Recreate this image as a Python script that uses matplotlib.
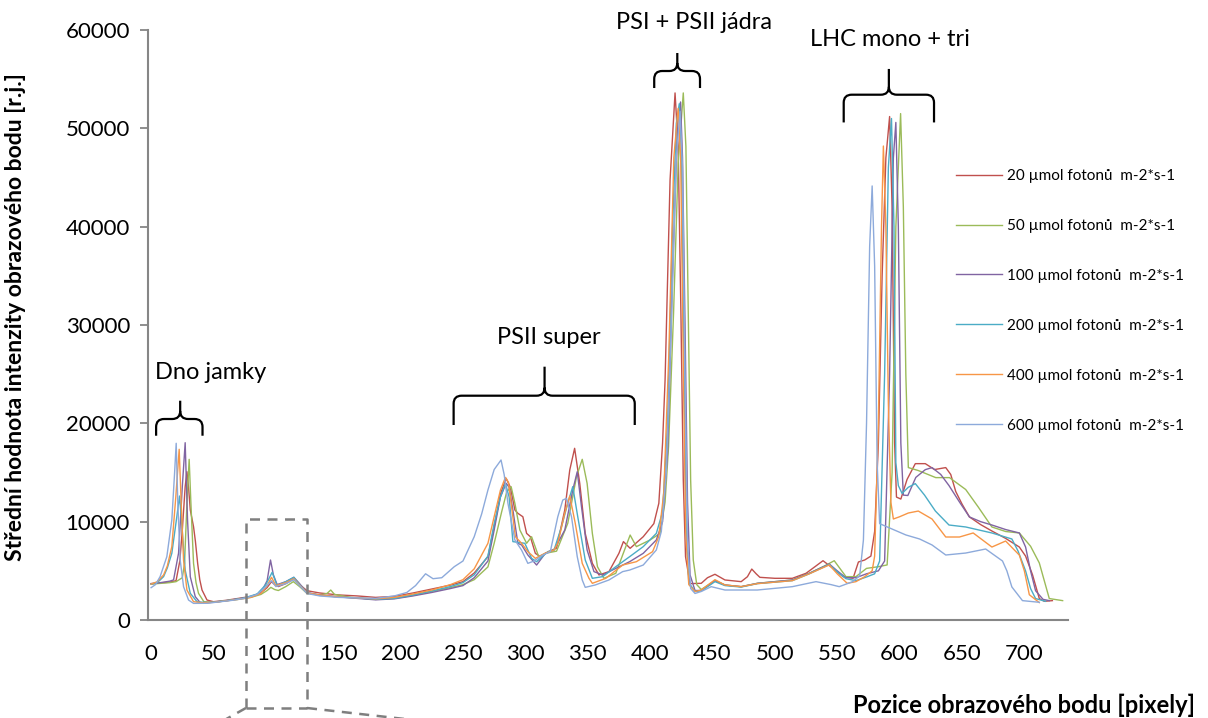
import matplotlib
matplotlib.use("Agg")
import matplotlib.pyplot as plt
from matplotlib.path import Path
from matplotlib.patches import PathPatch
from matplotlib.transforms import IdentityTransform

plt.rcParams['font.family'] = ['Lato', 'DejaVu Sans']

# ---- data (pixel position, mean intensity) ----
labels = ["20 µmol fotonů  m-2*s-1", "50 µmol fotonů  m-2*s-1",
          "100 µmol fotonů  m-2*s-1", "200 µmol fotonů  m-2*s-1",
          "400 µmol fotonů  m-2*s-1", "600 µmol fotonů  m-2*s-1"]
colors = ["#C0504D", "#9BBB59", "#8064A2", "#4BACC6", "#F79646", "#8DAADB"]

x_20 = [0, 5, 10, 15, 20, 23, 25, 27.3, 28.7, 30, 31.4, 34, 35.5, 37.3, 39, 40.8, 44.8, 50, 60, 70, 80, 88, 93, 96.5,
        99, 102, 108, 114, 119, 125, 135, 150, 165, 180, 195, 210, 225, 240, 250, 259, 270, 275, 280, 284.6, 288,
        291.6, 294, 298, 301, 304, 308, 312, 318.5, 325, 331.6, 335.6, 339.5, 343.6, 348, 353.7, 359, 367, 375,
        378.6, 384, 394.5, 403, 407, 410, 412, 416, 420, 422.5, 424.7, 426.6, 428.4, 432, 441, 446, 452, 460, 473,
        478, 481.5, 485, 488, 500, 514, 525, 533, 538.6, 546.6, 554.7, 562.7, 567, 572, 577, 580, 583, 586, 589,
        592, 594, 596, 597.5, 601, 606, 612.6, 620.6, 628, 637, 641, 645, 650, 656, 665, 674, 685, 696, 701,
        706.6, 712, 716, 722.5]
y_20 = [3700, 3750, 3800, 3850, 4000, 6000, 9150, 13560, 15080, 13500, 11190, 9490, 8000, 5760, 4100, 3050, 2030,
        1860, 2000, 2200, 2400, 2750, 3300, 3900, 3600, 3400, 3700, 4150, 3600, 2980, 2750, 2550, 2450, 2300, 2400,
        2750, 3150, 3550, 3900, 4780, 6440, 9490, 12800, 14400, 13500, 11190, 10850, 10500, 8810, 8470, 6780, 6440,
        6950, 7300, 11190, 15260, 17460, 13900, 8810, 5760, 4580, 4920, 6780, 7970, 7290, 8470, 9800, 11870, 18000,
        24400, 44750, 53600, 48140, 31200, 14240, 6440, 3700, 3730, 4300, 4650, 4070, 3900, 4400, 5180, 4700, 4340,
        4240, 4240, 4750, 5500, 6030, 5250, 4410, 4240, 5900, 6100, 6500, 9000, 18000, 35000, 47000, 51200, 42000,
        18000, 12500, 12300, 14300, 15900, 15900, 15300, 15500, 14800, 13070, 11800, 10480, 9700, 9050, 8300, 7420,
        6500, 4580, 2180, 1900, 1970]

x_50 = [0, 5, 10, 15, 20, 25, 26.8, 28.7, 30.5, 31.9, 34, 36, 38, 42.3, 50, 60, 70, 80, 88, 93, 96, 99, 102, 108,
        114, 119, 125, 135, 141, 144, 147, 160, 180, 195, 210, 225, 240, 250, 259, 270, 275, 281, 285, 288.6, 291.6,
        295.6, 301, 305, 310.7, 316, 325, 334, 341, 345.6, 349.5, 353.7, 357.8, 363, 372.5, 379, 384, 389, 400, 408,
        412, 414.8, 418.8, 422.5, 426.6, 428.7, 430.6, 432.5, 434.6, 437.4, 441, 452, 460, 473, 486, 500, 514,
        527.6, 540, 547.6, 557, 565, 573.5, 583, 590, 594, 597, 600.8, 603, 605, 607, 615, 629, 640, 653, 663, 674,
        685, 696, 705, 712, 720, 730.7]
y_50 = [3650, 3700, 3750, 3800, 3900, 4300, 5760, 11870, 16340, 11870, 5760, 3800, 2710, 1860, 1800, 1950, 2100,
        2300, 2600, 3000, 3320, 3100, 3000, 3400, 3900, 3400, 2700, 2550, 2700, 3050, 2600, 2300, 2100, 2200, 2500,
        2900, 3300, 3600, 4100, 5400, 7800, 11000, 13000, 13560, 11870, 9150, 7800, 8470, 6440, 6780, 7000, 9830,
        14580, 16340, 13900, 8810, 5420, 4240, 4750, 6950, 8640, 7460, 8140, 8810, 12000, 17630, 31200, 46450, 53600,
        48140, 31200, 14240, 6100, 3600, 3100, 4000, 3560, 3390, 3730, 3900, 4070, 4750, 5500, 6030, 4410, 4410,
        5250, 5420, 5600, 15000, 40000, 51500, 42000, 25000, 15500, 15200, 14480, 14480, 13270, 11500, 9460, 9000,
        8850, 7500, 5800, 2180, 1970]

x_100 = [0, 5, 10, 15, 18, 22, 25, 27.3, 29.2, 31.4, 35.4, 39.4, 50, 60, 70, 80, 88, 93, 95.7, 98, 101, 108, 114.4,
         119, 125, 135, 150, 165, 180, 195, 210, 225, 240, 250, 259, 270, 275, 280, 284.6, 287, 290, 294, 297, 302,
         309, 316, 323, 331.6, 338, 341.6, 345, 349.5, 355, 362, 372.5, 383.6, 394.5, 405, 410, 414, 418, 422,
         424.4, 426, 428, 430, 432, 436, 441, 452, 460, 473, 486, 500, 514, 527.6, 543.6, 550, 557, 565, 573.5, 583,
         588, 592, 595, 597, 599, 601, 603, 606.6, 613, 620.6, 626, 633, 639.6, 648, 656, 665, 674, 685, 696, 701,
         705, 709, 715, 720]
y_100 = [3700, 3750, 3850, 3950, 4080, 6800, 13560, 18030, 10170, 4400, 2370, 1760, 1800, 1950, 2150, 2350, 2750,
         4000, 6100, 4600, 3600, 3900, 4340, 3700, 2780, 2550, 2350, 2200, 2050, 2150, 2450, 2800, 3200, 3500, 4300,
         6000, 9150, 12500, 13900, 13500, 11190, 7800, 7630, 6610, 5590, 6780, 7120, 9150, 13220, 15080, 11530,
         7120, 4920, 4580, 5250, 5930, 6780, 8140, 10000, 17000, 35000, 50500, 52680, 47000, 30000, 12000, 4600,
         3000, 3000, 4000, 3560, 3390, 3730, 3900, 4070, 4750, 5700, 5000, 4300, 4300, 4700, 5000, 6000, 25000,
         47000, 50600, 40000, 18000, 12700, 12660, 14500, 15290, 15500, 14800, 13670, 12000, 10480, 10000, 9660,
         9200, 8850, 7420, 5000, 2980, 2100, 1970]

x_200 = [0, 5, 10, 13, 16.6, 20.6, 22.8, 24.7, 27.3, 31.4, 36.8, 45, 55, 65, 75, 85, 92, 97, 101, 108, 114.4, 119,
         125, 135, 150, 165, 180, 195, 210, 225, 240, 250, 259, 270, 275, 280, 284, 287, 290, 299.6, 305, 309, 318,
         323, 329, 334, 338, 342, 348, 353.7, 362, 372.5, 383.6, 394.5, 405, 410, 414, 418, 421, 423.4, 425, 427,
         429, 431, 436, 441, 452, 460, 473, 486, 500, 514, 527.6, 543.6, 550, 557, 565, 574, 580, 584, 588, 591,
         593.5, 595.5, 597, 599, 602, 607, 612.6, 620, 628.7, 639.6, 653, 674, 690, 695, 701, 705, 709, 717]
y_200 = [3650, 3800, 4410, 5300, 6780, 10510, 12610, 9490, 5080, 2710, 1860, 1750, 1900, 2050, 2250, 2650, 3600,
         4850, 3500, 3900, 4340, 3600, 2780, 2500, 2350, 2250, 2100, 2200, 2550, 2950, 3400, 3800, 4600, 6500, 9800,
         12500, 13900, 12500, 7970, 7800, 6270, 5930, 6950, 7120, 9490, 11870, 13560, 10500, 6100, 4240, 4410, 5420,
         6440, 7460, 8810, 11000, 20000, 40000, 50500, 52500, 48000, 28000, 9000, 3800, 2900, 2950, 3900, 3500,
         3350, 3700, 3850, 4000, 4700, 5650, 4900, 4200, 4000, 4400, 4700, 6000, 25000, 46000, 51000, 40000, 16000,
         13670, 12870, 13500, 13870, 12700, 11080, 9660, 9460, 8850, 8240, 7000, 4990, 3200, 2180, 1900]

x_400 = [0, 5, 10, 13, 16.6, 19.8, 22.5, 24.1, 26, 28.7, 34, 42, 50, 60, 70, 80, 88, 93, 96.5, 100, 108, 114.4, 119,
         125, 135, 150, 165, 180, 195, 210, 225, 240, 250, 259, 270, 275, 280, 284, 286.5, 288.6, 292, 297, 302,
         308, 316, 323, 326, 331.6, 335.6, 340, 345.6, 351, 353.7, 364.5, 378, 389, 402, 407, 411, 415, 419, 422.5,
         424.5, 426.5, 428.5, 431, 436, 441, 452, 460, 473, 486, 500, 514, 527.6, 543.6, 550, 558, 565, 572, 578,
         580, 583, 585.5, 587, 589, 591, 593, 595, 600, 607, 615, 626, 637, 648, 659, 674, 685, 696, 700, 704, 712]
y_400 = [3650, 3900, 4580, 5500, 7460, 12540, 17360, 11870, 6100, 3050, 1860, 1750, 1800, 1950, 2100, 2300, 2700,
         3500, 4340, 3500, 3800, 4200, 3550, 2750, 2550, 2350, 2250, 2150, 2300, 2650, 3050, 3600, 4100, 5200, 7800,
         10510, 13200, 14500, 14000, 11870, 8470, 7800, 6950, 6270, 6800, 7120, 7800, 10850, 12610, 9830, 5760,
         4240, 3730, 4240, 5590, 5930, 6950, 8500, 13000, 27000, 47000, 52040, 47000, 27000, 9000, 3600, 2900, 3050,
         4100, 3560, 3390, 3700, 3850, 4000, 4700, 5600, 4700, 3730, 3900, 4400, 5000, 6500, 20000, 40000, 48200,
         40000, 22000, 12000, 10270, 10500, 10880, 11080, 10270, 8440, 8440, 8850, 7420, 8030, 6600, 5000, 2570,
         1770]

x_600 = [0, 3.5, 7.2, 12.6, 16.6, 18.8, 20.1, 21.4, 23.3, 26, 30, 34, 45, 55, 65, 75, 85, 92, 96.5, 100, 108, 114.4,
         119, 125, 135, 150, 165, 180, 195, 205, 212, 220, 226, 233, 243, 250, 259, 265, 270, 275, 280.5, 283, 286,
         291.6, 297, 302, 307, 314, 320, 326, 330, 333, 337, 341.6, 345.6, 348, 356, 367, 378, 383.6, 394.5, 405,
         409, 413, 417, 421, 424, 426, 428, 430, 432.5, 436, 441, 449, 460, 486, 500, 514, 533, 545, 551.6, 562.4,
         568, 571, 573.5, 576, 578, 580, 582, 584, 594, 605, 616, 626, 637, 653, 669, 682.5, 686, 690, 698.5, 712]
y_600 = [3290, 3600, 4410, 6440, 10170, 14920, 17970, 11870, 6100, 3390, 2030, 1690, 1700, 1850, 2000, 2200, 2600,
         3400, 4000, 3400, 3700, 4100, 3500, 2700, 2450, 2300, 2250, 2200, 2450, 2800, 3500, 4700, 4200, 4300, 5420,
         6000, 8470, 10800, 13220, 15300, 16270, 14800, 11900, 8140, 7100, 5760, 6000, 6600, 6950, 10500, 12200,
         12370, 10500, 6440, 4070, 3320, 3560, 4070, 4920, 5080, 5590, 7120, 9000, 15000, 30000, 47000, 51700,
         46000, 25000, 8000, 3200, 2700, 2900, 3390, 3050, 3050, 3220, 3390, 3900, 3600, 3390, 3900, 4500, 8140,
         20000, 38000, 44140, 36000, 16000, 9800, 9250, 8650, 8240, 7630, 6610, 6810, 7220, 6000, 5000, 3360, 1970,
         1800]

series_x = [x_20, x_50, x_100, x_200, x_400, x_600]
series_y = [y_20, y_50, y_100, y_200, y_400, y_600]

x_ticks = list(range(0, 701, 50))
y_ticks = list(range(0, 60001, 10000))

# labelled regions: (text, left, middle, right, brace bottom, bar, tip, text x, text y)
regions = [
    ("Dno jamky", 4, 23.3, 41.2, 18740, 20440, 22300, 47.4, 25220),
    ("PSII super", 242.5, 315.4, 387.7, 19830, 22810, 25760, 319, 28680),
    ("PSI + PSII jádra", 403.3, 421.8, 440, 54100, 55830, 57660, 435, 60800),
    ("LHC mono + tri", 555.2, 591.4, 627.6, 50600, 53420, 56040, 592.4, 58990),
]

# zoom window marked with dashed box
zoom_x = [76, 125]
zoom_top = 10300
zoom_bottom = -8950


def draw_brace(ax, x0, xm, x1, yb, ybar, ytip, r=8):
    t = ax.transData
    X0, Yb = t.transform((x0, yb))
    X1, _ = t.transform((x1, yb))
    Xm, Ybar = t.transform((xm, ybar))
    _, Ytip = t.transform((xm, ytip))
    verts = [(X0, Yb), (X0, Ybar - r), (X0, Ybar), (X0 + r, Ybar), (Xm - r, Ybar), (Xm, Ybar), (Xm, Ybar + r),
             (Xm, Ytip),
             (X1, Yb), (X1, Ybar - r), (X1, Ybar), (X1 - r, Ybar), (Xm + r, Ybar), (Xm, Ybar), (Xm, Ybar + r)]
    codes = [Path.MOVETO, Path.LINETO, Path.CURVE3, Path.CURVE3, Path.LINETO, Path.CURVE3, Path.CURVE3,
             Path.LINETO,
             Path.MOVETO, Path.LINETO, Path.CURVE3, Path.CURVE3, Path.LINETO, Path.CURVE3, Path.CURVE3]
    patch = PathPatch(Path(verts, codes), transform=IdentityTransform(), fill=False,
                      edgecolor="black", lw=1.6, clip_on=False)
    ax.figure.add_artist(patch)


fig = plt.figure(figsize=(12.08, 7.18), dpi=100)
ax = fig.add_axes([148 / 1208, 98 / 718, 920 / 1208, 590 / 718])

for xs, ys, c, lab in zip(series_x, series_y, colors, labels):
    ax.plot(xs, ys, color=c, lw=1.0, label=lab)

ax.set_xlim(-2.5, 735)
ax.set_ylim(0, 60000)
ax.set_xticks(x_ticks)
ax.set_yticks(y_ticks)
ax.tick_params(axis="x", length=0, pad=17, labelsize=16)
ax.tick_params(axis="y", length=6, width=1.3, color="#868686", pad=7, labelsize=16)
for s in ["top", "right"]:
    ax.spines[s].set_visible(False)
for s in ["left", "bottom"]:
    ax.spines[s].set_color("#868686")
    ax.spines[s].set_linewidth(1.5)

ax.set_ylabel("Střední hodnota intenzity obrazového bodu [r.j.]", fontsize=16.5, fontweight="bold")
ax.yaxis.set_label_coords(-0.133, 0.513)
fig.text(1195 / 1208, 13 / 718, "Pozice obrazového bodu [pixely]", ha="right", va="center",
         fontsize=17, fontweight="bold")

# dashed zoom marker
dash = dict(color="#7F7F7F", lw=1.8, ls=(0, (4, 3)), clip_on=False)
ax.plot([zoom_x[0], zoom_x[0], zoom_x[1], zoom_x[1]], [zoom_bottom, zoom_top, zoom_top, zoom_bottom], **dash)
ax.plot([zoom_x[0], zoom_x[1]], [zoom_bottom, zoom_bottom], **dash)
ax.plot([zoom_x[0], 50], [zoom_bottom, -10800], **dash)
ax.plot([zoom_x[1], 230], [zoom_bottom, -10450], **dash)

fig.canvas.draw()
for text, x0, xm, x1, yb, ybar, ytip, tx, ty in regions:
    draw_brace(ax, x0, xm, x1, yb, ybar, ytip)
    ax.text(tx, ty, text, ha="center", va="center", fontsize=17, clip_on=False)

fig.legend(loc="upper left", bbox_to_anchor=(956 / 1208, 1 - 169 / 718), frameon=False, fontsize=11,
           handlelength=3.0, handletextpad=0.35, labelspacing=2.35, borderpad=0, borderaxespad=0)

fig.savefig("out.png", dpi=100)
